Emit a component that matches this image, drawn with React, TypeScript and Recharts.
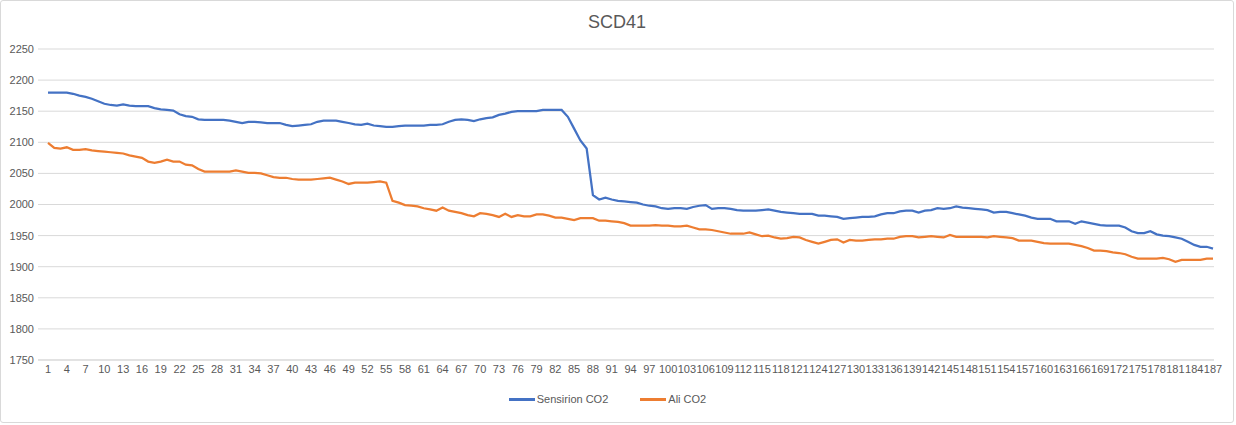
import { LineChart, Line, XAxis, YAxis, CartesianGrid, Legend } from 'recharts'

const sensirion = [
  2180, 2180, 2180, 2180, 2178, 2175, 2173, 2170, 2166, 2162,
  2160, 2159, 2161, 2159, 2158, 2158, 2158, 2155, 2153, 2152,
  2151, 2145, 2142, 2141, 2137, 2136, 2136, 2136, 2136, 2135,
  2133, 2131, 2133, 2133, 2132, 2131, 2131, 2131, 2128, 2126,
  2127, 2128, 2129, 2133, 2135, 2135, 2135, 2133, 2131, 2129,
  2128, 2130, 2127, 2126, 2125, 2125, 2126, 2127, 2127, 2127,
  2127, 2128, 2128, 2129, 2133, 2136, 2137, 2136, 2134, 2137,
  2139, 2140, 2144, 2146, 2149, 2150, 2150, 2150, 2150, 2152,
  2152, 2152, 2152, 2141, 2122, 2103, 2090, 2015, 2008, 2011,
  2008, 2006, 2005, 2004, 2003, 2000, 1998, 1997, 1994, 1993,
  1994, 1994, 1993, 1996, 1998, 1999, 1993, 1994, 1994, 1993,
  1991, 1990, 1990, 1990, 1991, 1992, 1990, 1988, 1987, 1986,
  1985, 1985, 1985, 1982, 1982, 1981, 1980, 1977, 1978, 1979,
  1980, 1980, 1981, 1984, 1986, 1986, 1989, 1990, 1990, 1987,
  1990, 1991, 1994, 1993, 1994, 1997, 1995, 1994, 1993, 1992,
  1991, 1987, 1988, 1988, 1986, 1984, 1982, 1979, 1977, 1977,
  1977, 1973, 1973, 1973, 1969, 1973, 1971, 1969, 1967, 1966,
  1966, 1966, 1963, 1957, 1954, 1954, 1957, 1952, 1950, 1949,
  1947, 1945, 1940, 1935, 1932, 1932, 1929,
]

const ali = [
  2099, 2091, 2090, 2092, 2088, 2088, 2089, 2087, 2086, 2085,
  2084, 2083, 2082, 2079, 2077, 2075, 2069, 2067, 2069, 2072,
  2069, 2069, 2064, 2063, 2057, 2053, 2053, 2053, 2053, 2053,
  2055, 2053, 2051, 2051, 2050, 2047, 2044, 2043, 2043, 2041,
  2040, 2040, 2040, 2041, 2042, 2043, 2040, 2037, 2033, 2035,
  2035, 2035, 2036, 2037, 2035, 2006, 2003, 1999, 1998, 1997,
  1994, 1992, 1990, 1995, 1990, 1988, 1986, 1983, 1981, 1986,
  1985, 1983, 1980, 1985, 1980, 1983, 1981, 1981, 1984, 1984,
  1982, 1979, 1979, 1977, 1975, 1978, 1978, 1978, 1974, 1974,
  1973, 1972, 1970, 1966, 1966, 1966, 1966, 1967, 1966, 1966,
  1965, 1965, 1966, 1963, 1960, 1960, 1959, 1957, 1955, 1953,
  1953, 1953, 1955, 1952, 1949, 1950, 1947, 1945, 1946, 1948,
  1947, 1943, 1940, 1937, 1940, 1943, 1944, 1939, 1943, 1942,
  1942, 1943, 1944, 1944, 1945, 1945, 1948, 1949, 1949, 1947,
  1948, 1949, 1948, 1947, 1951, 1948, 1948, 1948, 1948, 1948,
  1947, 1949, 1948, 1947, 1946, 1942, 1942, 1942, 1940, 1938,
  1937, 1937, 1937, 1937, 1935, 1933, 1930, 1926, 1926, 1925,
  1923, 1922, 1920, 1916, 1913, 1913, 1913, 1913, 1914, 1912,
  1908, 1911, 1911, 1911, 1911, 1913, 1913,
]

const yTicks = [1750, 1800, 1850, 1900, 1950, 2000, 2050, 2100, 2150, 2200, 2250]

const data = sensirion.map((s, i) => ({
  idx: String(i + 1),
  sensirion: s,
  ali: ali[i],
}))

const textColor = '#595959'
const font = '"Liberation Sans", Arial, sans-serif'

function LegendContent() {
  const items = [
    { label: 'Sensirion CO2', color: '#4472C4' },
    { label: 'Ali CO2', color: '#ED7D31' },
  ]
  return (
    <div
      style={{
        display: 'flex',
        justifyContent: 'center',
        gap: 32,
        paddingTop: 11,
        fontFamily: font,
        fontSize: 11,
        color: textColor,
      }}
    >
      {items.map((it) => (
        <div key={it.label} style={{ display: 'flex', alignItems: 'center' }}>
          <span style={{ display: 'inline-block', width: 26, height: 3, background: it.color, marginRight: 2 }} />
          <span>{it.label}</span>
        </div>
      ))}
    </div>
  )
}

export default function App() {
  return (
    <div
      style={{
        position: 'absolute',
        left: 0,
        top: 0,
        width: 1232,
        height: 421,
        border: '1px solid #d9d9d9',
        borderRadius: 3,
        background: '#fff',
      }}
    >
      <div
        style={{
          position: 'absolute',
          top: 11,
          width: '100%',
          textAlign: 'center',
          fontFamily: font,
          fontSize: 18,
          color: textColor,
        }}
      >
        SCD41
      </div>
      <LineChart width={1232} height={421} data={data} margin={{ top: 48, right: 19, bottom: 10, left: 0 }}>
        <CartesianGrid vertical={false} stroke="#d9d9d9" />
        <XAxis
          dataKey="idx"
          interval={2}
          padding={{ left: 10, right: 1 }}
          tickLine={false}
          tickSize={0}
          tickMargin={5}
          height={22}
          axisLine={{ stroke: '#d9d9d9' }}
          tick={{ fill: textColor, fontSize: 11, fontFamily: font }}
        />
        <YAxis
          domain={[1750, 2250]}
          ticks={yTicks}
          width={37}
          axisLine={false}
          tickLine={false}
          tickSize={0}
          tickMargin={4}
          tick={{ fill: textColor, fontSize: 11, fontFamily: font }}
        />
        <Legend verticalAlign="bottom" height={30} content={<LegendContent />} />
        <Line
          type="linear"
          dataKey="sensirion"
          name="Sensirion CO2"
          stroke="#4472C4"
          strokeWidth={2.25}
          dot={false}
          isAnimationActive={false}
        />
        <Line
          type="linear"
          dataKey="ali"
          name="Ali CO2"
          stroke="#ED7D31"
          strokeWidth={2.25}
          dot={false}
          isAnimationActive={false}
        />
      </LineChart>
    </div>
  )
}
